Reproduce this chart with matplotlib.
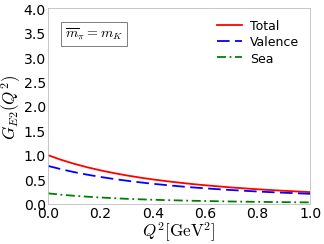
import numpy as np
import matplotlib.pyplot as plt

plt.rcParams['mathtext.fontset'] = 'cm'

q2 = [0.0, 0.05, 0.1, 0.15, 0.2, 0.25, 0.3, 0.35, 0.4, 0.45, 0.5,
      0.55, 0.6, 0.65, 0.7, 0.75, 0.8, 0.85, 0.9, 0.95, 1.0]
total = [1.0, 0.905, 0.823, 0.752, 0.690, 0.635, 0.586, 0.543, 0.504, 0.470, 0.439,
         0.410, 0.385, 0.362, 0.340, 0.321, 0.303, 0.287, 0.272, 0.258, 0.245]
valence = [0.78, 0.713, 0.653, 0.601, 0.555, 0.514, 0.478, 0.445, 0.415, 0.389, 0.364,
           0.342, 0.322, 0.304, 0.287, 0.272, 0.257, 0.244, 0.232, 0.221, 0.21]
sea = [0.22, 0.192, 0.170, 0.151, 0.135, 0.121, 0.108, 0.098, 0.089, 0.081, 0.075,
       0.068, 0.063, 0.058, 0.053, 0.049, 0.046, 0.043, 0.040, 0.037, 0.035]

fig = plt.figure(figsize=(4.5, 3.4), dpi=72)
ax = fig.add_axes([0.148, 0.163, 0.809, 0.8])

ax.plot(q2, total, color='red', lw=1.8, label='Total')
ax.plot(q2, valence, color='blue', lw=1.8, dashes=(7, 3), label='Valence')
ax.plot(q2, sea, color='green', lw=1.8, dashes=(5, 2, 1, 2), label='Sea')

ax.set_xlim(0, 1)
ax.set_ylim(0, 4)
ax.set_xticks(np.arange(0, 1.01, 0.2))
ax.set_yticks(np.arange(0, 4.01, 0.5))
ax.tick_params(length=0, labelsize=14, pad=2)
for s in ax.spines.values():
    s.set_color('#bbbbbb')

ax.set_xlabel(r'$Q^2[\mathrm{GeV}^2]$', fontsize=17, labelpad=0)
ax.set_ylabel(r'$G_{E2}(Q^2)$', fontsize=17, labelpad=1)

ax.text(0.065, 0.85, r'$\overline{m}_\pi = m_K$', transform=ax.transAxes,
        fontsize=14, bbox=dict(facecolor='white', edgecolor='gray', pad=4))
ax.legend(loc='upper right', frameon=False, fontsize=12.5, handlelength=2.0,
          handletextpad=0.6, labelspacing=0.25, borderaxespad=0.5)

plt.savefig('out.png')
